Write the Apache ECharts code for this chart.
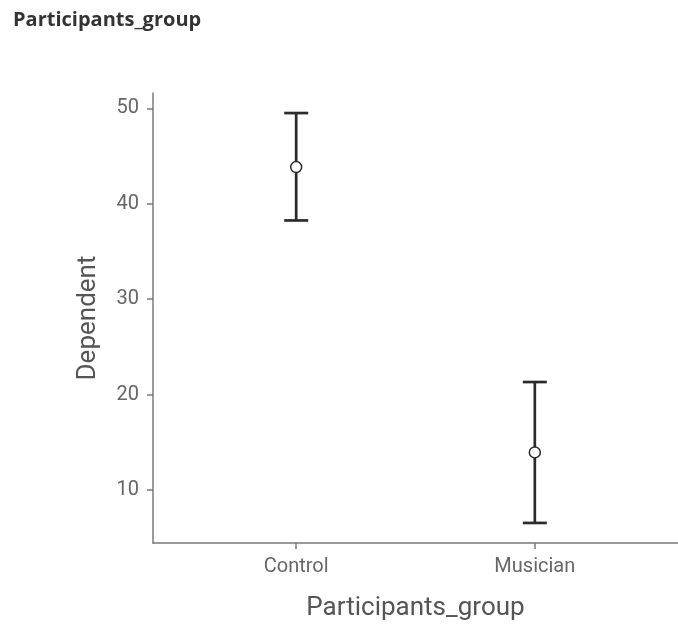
<!DOCTYPE html>
<html>
<head>
<meta charset="utf-8">
<script src="https://cdn.jsdelivr.net/npm/echarts@6/dist/echarts.min.js"></script>
<style>
  html, body { margin: 0; padding: 0; background: #fff; }
  #chart { width: 678px; height: 626px; }
</style>
</head>
<body>
<div id="chart"></div>
<script>
// Group means with their confidence intervals
const categories = ['Control', 'Musician'];
const means = [43.84, 13.96];
const lower = [38.25, 6.57];
const upper = [49.5, 21.33];
const yTicks = [10, 20, 30, 40, 50];

// categories are placed at x = 1, 2 on a continuous axis
const xPos = categories.map((c, i) => i + 1);
const pointData = xPos.map((x, i) => [x, means[i]]);
const barData = xPos.map((x, i) => [x, lower[i], upper[i]]);

const chart = echarts.init(document.getElementById('chart'), null, { renderer: 'canvas' });

const labelFont = 'Roboto, "Liberation Sans", Arial, sans-serif';
const axisGrey = '#7a7a7a';

chart.setOption({
  animation: false,
  title: {
    text: 'Participants_group',
    left: 8,
    top: 5,
    textStyle: { fontFamily: '"Open Sans", "Noto Sans", sans-serif', fontWeight: 'bold', fontSize: 20, color: '#333' }
  },
  grid: { left: 153, top: 93, bottom: 83, right: -6, containLabel: false },
  xAxis: {
    type: 'value',
    min: 0.4,
    max: 2.6,
    name: 'Participants_group',
    nameLocation: 'middle',
    nameGap: 52,
    nameTextStyle: { fontFamily: labelFont, fontSize: 26, color: '#555' },
    splitLine: { show: false },
    axisLine: { show: true, lineStyle: { color: axisGrey, width: 1.5 } },
    axisTick: { show: true, length: 6, customValues: xPos, lineStyle: { color: axisGrey, width: 1.5 } },
    axisLabel: {
      customValues: xPos,
      margin: 14,
      fontFamily: labelFont, fontSize: 20, color: '#666',
      formatter: v => categories[Math.round(v) - 1] || ''
    }
  },
  yAxis: {
    type: 'value',
    min: 4.47,
    max: 51.6,
    name: 'Dependent',
    nameLocation: 'middle',
    nameGap: 52,
    nameTextStyle: { fontFamily: labelFont, fontSize: 26, color: '#555' },
    splitLine: { show: false },
    axisLine: { show: true, lineStyle: { color: axisGrey, width: 1.5 } },
    axisTick: { show: true, length: 6, customValues: yTicks, lineStyle: { color: axisGrey, width: 1.5 } },
    axisLabel: {
      customValues: yTicks,
      margin: 14,
      fontFamily: labelFont, fontSize: 20, color: '#666'
    }
  },
  series: [
    {
      type: 'custom',
      data: barData,
      z: 2,
      renderItem: function (params, api) {
        const x = api.value(0);
        const lo = api.coord([x, api.value(1)]);
        const hi = api.coord([x, api.value(2)]);
        const half = 12;
        const style = { stroke: '#2b2b2b', lineWidth: 2.7 };
        return {
          type: 'group',
          children: [
            { type: 'line', shape: { x1: lo[0], y1: lo[1], x2: hi[0], y2: hi[1] }, style },
            { type: 'line', shape: { x1: hi[0] - half, y1: hi[1], x2: hi[0] + half, y2: hi[1] }, style },
            { type: 'line', shape: { x1: lo[0] - half, y1: lo[1], x2: lo[0] + half, y2: lo[1] }, style }
          ]
        };
      }
    },
    {
      type: 'scatter',
      data: pointData,
      z: 3,
      symbol: 'circle',
      symbolSize: 11,
      itemStyle: { color: '#ffffff', borderColor: '#2b2b2b', borderWidth: 1.5, opacity: 1 }
    }
  ]
});
</script>
</body>
</html>
